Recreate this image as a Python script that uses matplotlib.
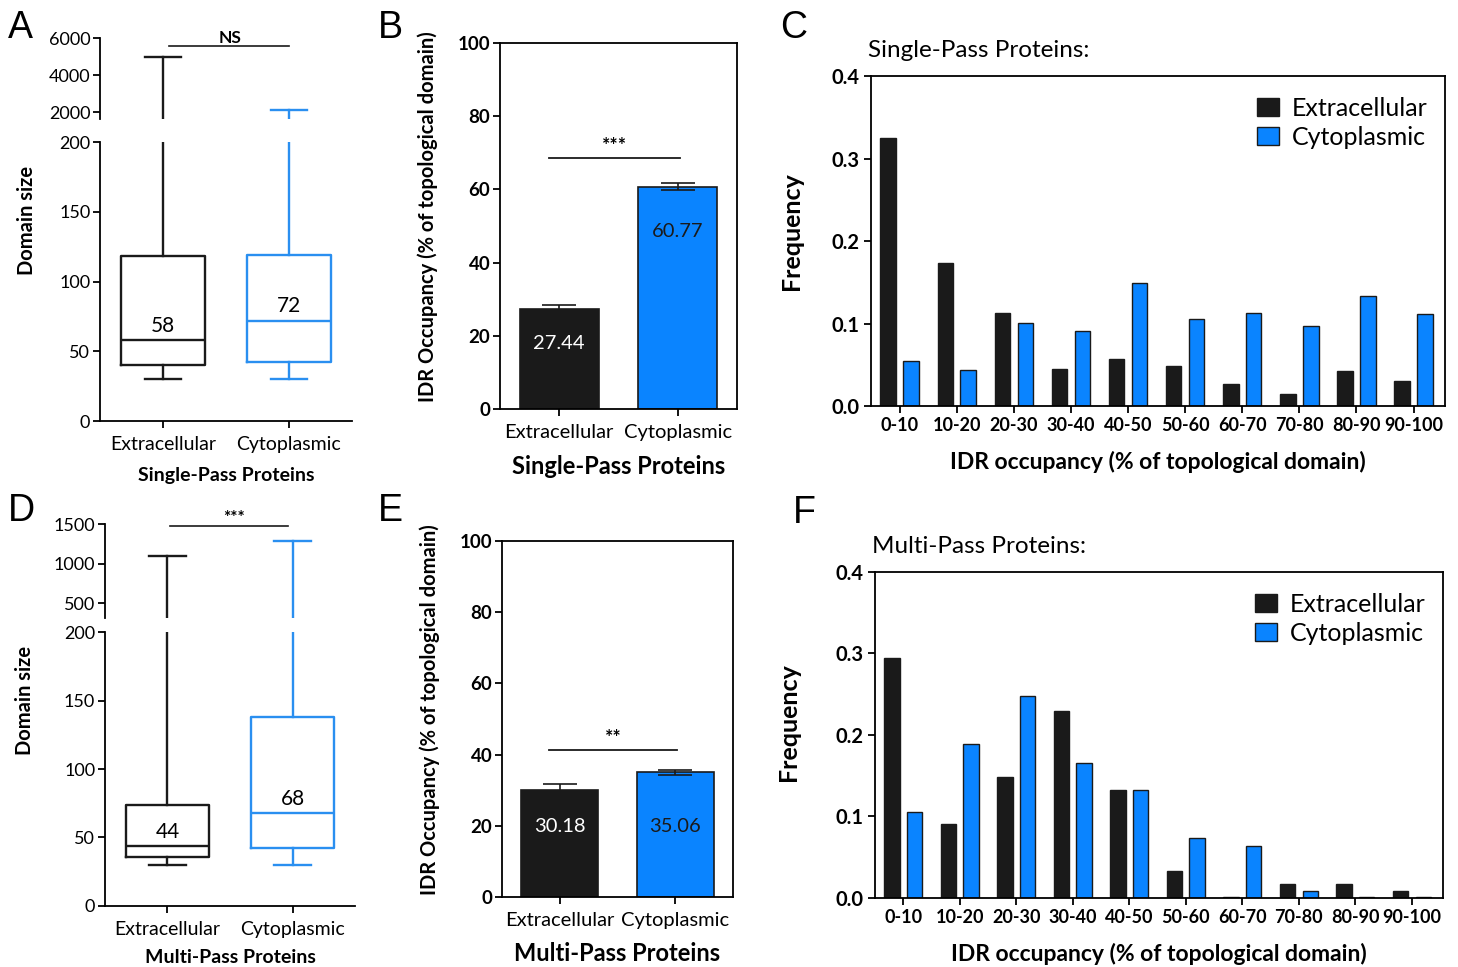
import matplotlib.pyplot as plt
import numpy as np

plt.rcParams['font.family'] = ['Lato', 'DejaVu Sans']
plt.rcParams['axes.linewidth'] = 1.3
plt.rcParams['xtick.major.width'] = 1.3
plt.rcParams['ytick.major.width'] = 1.3

BLACK = '#1a1a1a'
BLUE = '#0a84ff'
BOXBLUE = '#2a8ff0'

categories = ['Extracellular', 'Cytoplasmic']
bins = ['0-10', '10-20', '20-30', '30-40', '40-50', '50-60', '60-70', '70-80', '80-90', '90-100']

# box stats: whisker low, q1, median, q3, whisker high
sp_ext_box = [30, 40, 58, 118, 5000]
sp_cyto_box = [30, 42, 72, 119, 2100]
mp_ext_box = [30, 36, 44, 74, 1100]
mp_cyto_box = [30, 42, 68, 138, 1290]

sp_mean = [27.44, 60.77]
sp_err = [1.0, 1.0]
mp_mean = [30.18, 35.06]
mp_err = [1.6, 0.7]

sp_ext_freq = [0.325, 0.173, 0.113, 0.045, 0.057, 0.048, 0.027, 0.015, 0.042, 0.030]
sp_cyto_freq = [0.054, 0.044, 0.101, 0.091, 0.149, 0.105, 0.113, 0.097, 0.133, 0.111]
mp_ext_freq = [0.295, 0.091, 0.148, 0.230, 0.132, 0.033, 0.001, 0.017, 0.017, 0.009]
mp_cyto_freq = [0.105, 0.189, 0.248, 0.166, 0.132, 0.073, 0.064, 0.009, 0.001, 0.001]

fig = plt.figure(figsize=(14.58, 9.67), dpi=100)


def box_panel(rect_top, rect_bot, stats, top_lim, top_ticks, sig, sig_y, sig_x, title, ylab_xy, xpad):
    ax_t = fig.add_axes(rect_top)
    ax_b = fig.add_axes(rect_bot)
    cols = [BLACK, BOXBLUE]
    for ax in (ax_t, ax_b):
        for i, s in enumerate(stats):
            d = dict(whislo=s[0], q1=s[1], med=s[2], q3=s[3], whishi=s[4])
            lp = dict(color=cols[i], lw=1.7)
            ax.bxp([d], positions=[i], widths=0.67, capwidths=0.29, showfliers=False,
                   boxprops=lp, whiskerprops=lp, capprops=lp, medianprops=lp)
        ax.set_xlim(-0.5, 1.5)
        ax.spines[['top', 'right']].set_visible(False)
    for i, s in enumerate(stats):
        ax_b.text(i, s[2] + 3, str(s[2]), ha='center', va='bottom', fontsize=15)
    ax_b.set_ylim(0, 200)
    ax_b.set_yticks([0, 50, 100, 150, 200])
    ax_b.set_xticks([0, 1])
    ax_b.set_xticklabels(categories, fontsize=14)
    ax_b.tick_params(axis='y', labelsize=13, length=5, pad=2)
    ax_b.tick_params(axis='x', length=5, pad=6)
    ax_b.set_xlabel(title, fontsize=14, fontweight='bold', labelpad=xpad)
    ax_b.set_ylabel('Domain size', fontsize=14.5, fontweight='bold')
    ax_b.yaxis.set_label_coords(*ylab_xy)
    ax_t.set_ylim(*top_lim)
    ax_t.set_yticks(top_ticks)
    ax_t.tick_params(axis='y', labelsize=13, length=5, pad=2)
    ax_t.spines['bottom'].set_visible(False)
    ax_t.set_xticks([])
    ax_t.plot(sig_x, [sig_y, sig_y], color=BLACK, lw=1.2, clip_on=False)
    ax_t.text(np.mean([0, 1]) + 0.03, sig_y, sig, ha='center', va='bottom', fontsize=12.5,
              fontweight='bold', clip_on=False)
    return ax_t, ax_b


def bar_panel(rect, means, errs, label_y, sig, sig_y, sig_x, title, ylab_xy, xpad):
    ax = fig.add_axes(rect)
    x = np.arange(len(categories))
    ax.bar(x, means, width=0.67, color=[BLACK, BLUE], edgecolor=BLACK, lw=1.2,
           yerr=errs, capsize=12, error_kw=dict(ecolor=BLACK, elinewidth=1.2, capthick=1.2))
    for i, m in enumerate(means):
        ax.text(i, label_y[i], f'{m:.2f}', ha='center', va='center', fontsize=14.5,
                color='white' if i == 0 else BLACK)
    ax.plot(sig_x, [sig_y, sig_y], color=BLACK, lw=1.3)
    ax.text(np.mean(sig_x), sig_y + 1.2, sig, ha='center', va='bottom', fontsize=14, fontweight='bold')
    ax.set_xlim(-0.5, 1.5)
    ax.set_ylim(0, 100)
    ax.set_yticks([0, 20, 40, 60, 80, 100])
    ax.set_xticks(x)
    ax.set_xticklabels(categories, fontsize=14.5)
    ax.tick_params(axis='y', labelsize=13.5, length=5, pad=2)
    ax.tick_params(axis='x', length=5, pad=6)
    for t in ax.get_yticklabels():
        t.set_fontweight('bold')
    ax.set_xlabel(title, fontsize=17, fontweight='bold', labelpad=xpad)
    ax.set_ylabel('IDR Occupancy (% of topological domain)', fontsize=14.5, fontweight='bold')
    ax.yaxis.set_label_coords(*ylab_xy)
    return ax


def hist_panel(rect, ext, cyto, title, ylab_xy):
    ax = fig.add_axes(rect)
    x = np.arange(len(bins))
    ax.bar(x - 0.2, ext, width=0.27, color=BLACK, edgecolor=BLACK, lw=1.0, label='Extracellular')
    ax.bar(x + 0.2, cyto, width=0.27, color=BLUE, edgecolor=BLACK, lw=1.0, label='Cytoplasmic')
    ax.set_xlim(-0.5, 9.55)
    ax.set_ylim(0, 0.4)
    ax.set_yticks([0.0, 0.1, 0.2, 0.3, 0.4])
    ax.set_yticklabels(['0.0', '0.1', '0.2', '0.3', '0.4'], fontsize=14.5, fontweight='bold')
    ax.set_xticks(x)
    ax.set_xticklabels(bins, fontsize=13, fontweight='bold')
    ax.tick_params(axis='both', length=5, pad=3)
    ax.set_xlabel('IDR occupancy (% of topological domain)', fontsize=16.5, fontweight='bold', labelpad=12)
    ax.set_ylabel('Frequency', fontsize=18, fontweight='bold')
    ax.yaxis.set_label_coords(*ylab_xy)
    ax.legend(loc='upper right', bbox_to_anchor=(1.0, 0.99), frameon=False, fontsize=18,
              handlelength=0.9, handleheight=0.75, handletextpad=0.5, labelspacing=0.25,
              borderaxespad=0.3)
    ax.text(-0.005, 1.045, title, transform=ax.transAxes, fontsize=17.5, ha='left', va='bottom')
    return ax


# panel A
box_panel([0.0686, 0.8769, 0.1728, 0.0838], [0.0686, 0.5646, 0.1728, 0.2885],
          [sp_ext_box, sp_cyto_box], (1620, 6000), [2000, 4000, 6000],
          'NS', 5570, [0.05, 1.0], 'Single-Pass Proteins', (-0.25, 0.72), 10)
# panel D
box_panel([0.072, 0.3609, 0.1715, 0.0972], [0.072, 0.0631, 0.1715, 0.2833],
          [mp_ext_box, mp_cyto_box], (310, 1500), [500, 1000, 1500],
          '***', 1475, [0.02, 0.96], 'Multi-Pass Proteins', (-0.28, 0.75), 8)
# panel B
bar_panel([0.3429, 0.577, 0.1626, 0.3785], sp_mean, sp_err, [17.8, 48.4],
          '***', 68.6, [-0.09, 1.02], 'Single-Pass Proteins', (-0.26, 0.525), 10)
# panel E
bar_panel([0.3443, 0.0724, 0.1584, 0.3681], mp_mean, mp_err, [19.9, 19.9],
          '**', 41.3, [-0.09, 1.015], 'Multi-Pass Proteins', (-0.27, 0.525), 9)
# panel C
hist_panel([0.5974, 0.5801, 0.3937, 0.3413], sp_ext_freq, sp_cyto_freq,
           'Single-Pass Proteins:', (-0.118, 0.53))
# panel F
hist_panel([0.6001, 0.0714, 0.3896, 0.3371], mp_ext_freq, mp_cyto_freq,
           'Multi-Pass Proteins:', (-0.132, 0.54))

for letter, x, y in [('A', 8, 10), ('B', 378, 10), ('C', 780, 10),
                     ('D', 8, 493), ('E', 378, 493), ('F', 793, 495)]:
    fig.text(x / 1458, 1 - y / 967, letter, fontsize=27, va='top', ha='left',
             family='Liberation Sans')

fig.savefig('out.png', dpi=100)
